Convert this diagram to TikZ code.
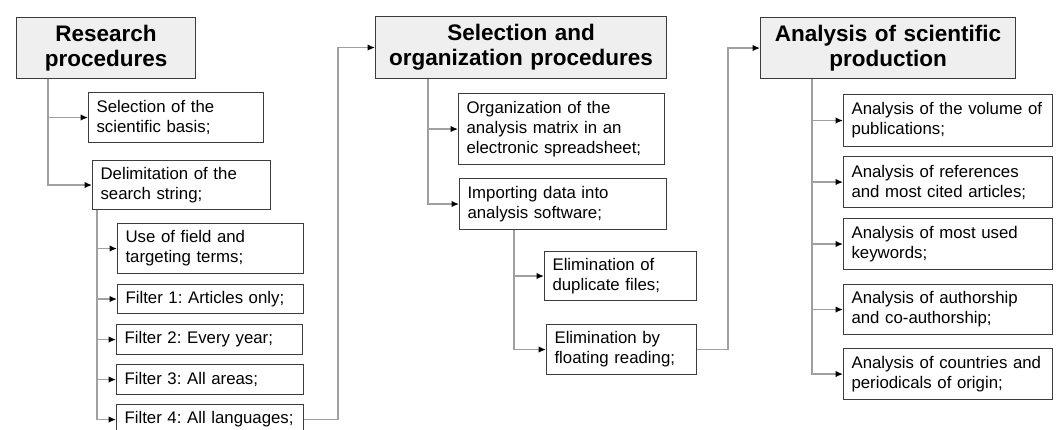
\documentclass[tikz,border=0pt]{standalone}
\usepackage{fontspec}
\setmainfont{Liberation Sans}
\usepackage{xcolor}
\usetikzlibrary{positioning, arrows.meta}

\definecolor{boxline}{HTML}{3C3C3C}
\definecolor{headfill}{HTML}{EFEFEF}
\definecolor{linkgray}{HTML}{A0A0A0}

\begin{document}
\frenchspacing
\hyphenpenalty=10000
\begin{tikzpicture}[
    x=1pt, y=-1pt,
    head_style/.style={draw=boxline, line width=1.1pt, fill=headfill, anchor=north west,
        align=center, inner xsep=7pt, inner ysep=0pt,
        font=\bfseries\fontsize{22.5}{25}\selectfont},
    item_style/.style={draw=boxline, line width=1.1pt, fill=white, anchor=north west,
        align=left, inner xsep=8pt, inner ysep=0pt,
        font=\fontsize{16.8}{20}\selectfont},
    link_style/.style={linkgray, line width=1.4pt, -{Latex[length=7.5pt, width=6.5pt, black]}}
]
    \useasboundingbox (0,0) rectangle (1057,430);

    % Column 1
    \node[head_style, text width=165pt, minimum height=61pt] (research) at (16,17) {Research\\procedures};
    \node[item_style, text width=159pt, minimum height=50pt] (basis) at (88,92) {Selection of the\\scientific basis;};
    \node[item_style, text width=162pt, minimum height=49pt] (string) at (92,160) {Delimitation of the\\search string;};
    \node[item_style, text width=170pt, minimum height=50pt] (terms) at (117,223) {Use of field and\\targeting terms;};
    \node[item_style, text width=170pt, minimum height=29pt] (filterA) at (117,284) {Filter 1: Articles only;};
    \node[item_style, text width=170pt, minimum height=30pt] (filterB) at (116,324) {Filter 2: Every year;};
    \node[item_style, text width=171pt, minimum height=30pt] (filterC) at (116,364) {Filter 3: All areas;};
    \node[item_style, text width=171pt, minimum height=30pt] (filterD) at (116,404) {Filter 4: All languages;};

    % Column 2
    \node[head_style, text width=277pt, minimum height=62pt] (selection) at (375,16) {Selection and\\organization procedures};
    \node[item_style, text width=190pt, minimum height=71pt] (matrix) at (458,93) {Organization of the\\analysis matrix in an\\electronic spreadsheet;};
    \node[item_style, text width=191pt, minimum height=51pt] (software) at (459,178) {Importing data into\\analysis software;};
    \node[item_style, text width=136pt, minimum height=49pt] (duplicate) at (544,251) {Elimination of\\duplicate files;};
    \node[item_style, text width=134pt, minimum height=50pt] (floating) at (546,324) {Elimination by\\floating reading;};

    % Column 3
    \node[head_style, text width=241pt, minimum height=61pt] (analysis) at (760,17) {Analysis of scientific\\production};
    \node[item_style, text width=193pt, minimum height=52pt] (volume) at (843,94) {Analysis of the volume of\\publications;};
    \node[item_style, text width=193pt, minimum height=51pt] (cited) at (843,156) {Analysis of references\\and most cited articles;};
    \node[item_style, text width=193pt, minimum height=51pt] (keywords) at (843,218) {Analysis of most used\\keywords;};
    \node[item_style, text width=193pt, minimum height=50pt] (authors) at (843,284) {Analysis of authorship\\and co-authorship;};
    \node[item_style, text width=193pt, minimum height=51pt] (countries) at (843,348) {Analysis of countries and\\periodicals of origin;};

    % Connectors
    \draw[link_style] ([xshift=32pt]research.south west) |- (basis.west);
    \draw[link_style] ([xshift=32pt]research.south west) |- (string.west);
    \foreach \n in {terms, filterA, filterB, filterC, filterD}
        \draw[link_style] ([xshift=5pt]string.south west) |- (\n.west);
    \draw[link_style] (filterD.east) -- ++(34,0) |- (selection.west);

    \draw[link_style] ([xshift=53pt]selection.south west) |- (matrix.west);
    \draw[link_style] ([xshift=53pt]selection.south west) |- (software.west);
    \draw[link_style] ([xshift=55pt]software.south west) |- (duplicate.west);
    \draw[link_style] ([xshift=55pt]software.south west) |- (floating.west);
    \draw[link_style] (floating.east) -- ++(31,0) |- (analysis.west);

    \foreach \n in {volume, cited, keywords, authors, countries}
        \draw[link_style] ([xshift=52pt]analysis.south west) |- (\n.west);
\end{tikzpicture}
\end{document}
